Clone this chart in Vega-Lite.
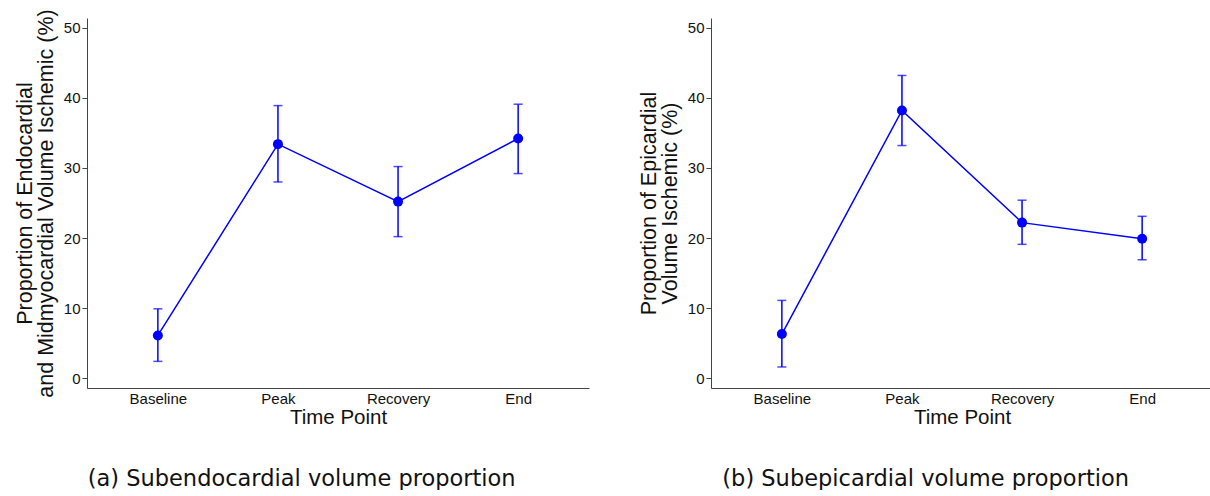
{
  "$schema": "https://vega.github.io/schema/vega-lite/v6.json",
  "background": "white",
  "padding": {"left": 14, "top": 8, "right": 0, "bottom": 0},
  "datasets": {
    "d": [
      {"panel": "a", "time": "Baseline", "mean": 6.1, "lo": 2.4, "hi": 9.9},
      {"panel": "a", "time": "Peak", "mean": 33.4, "lo": 28.0, "hi": 38.9},
      {"panel": "a", "time": "Recovery", "mean": 25.2, "lo": 20.2, "hi": 30.2},
      {"panel": "a", "time": "End", "mean": 34.2, "lo": 29.2, "hi": 39.1},
      {"panel": "b", "time": "Baseline", "mean": 6.3, "lo": 1.6, "hi": 11.1},
      {"panel": "b", "time": "Peak", "mean": 38.2, "lo": 33.2, "hi": 43.2},
      {"panel": "b", "time": "Recovery", "mean": 22.2, "lo": 19.1, "hi": 25.4},
      {"panel": "b", "time": "End", "mean": 19.9, "lo": 16.9, "hi": 23.1}
    ]
  },
  "config": {
    "view": {"stroke": null},
    "font": "Liberation Sans",
    "axis": {
      "grid": false,
      "domainColor": "#444444",
      "tickColor": "#444444",
      "labelColor": "#111111",
      "titleColor": "#111111",
      "labelFontSize": 15,
      "titleFontSize": 20.5,
      "titleFontWeight": "normal",
      "labelFont": "Liberation Sans",
      "titleFont": "Liberation Sans"
    },
    "title": {
      "font": "DejaVu Sans",
      "fontSize": 22.5,
      "fontWeight": "normal",
      "color": "#111111",
      "orient": "bottom",
      "frame": "bounds",
      "anchor": "middle",
      "offset": 40
    }
  },
  "spacing": 49,
  "hconcat": [
    {
      "width": 502,
      "height": 370,
      "title": {"text": "(a) Subendocardial volume proportion"},
      "data": {"name": "d"},
      "transform": [{"filter": "datum.panel == 'a'"}],
      "encoding": {
        "x": {
          "field": "time", "type": "ordinal",
          "sort": ["Baseline", "Peak", "Recovery", "End"],
          "scale": {"type": "point", "padding": 0.59},
          "axis": {"labelAngle": 0, "ticks": false, "title": "Time Point", "labelPadding": 3, "titlePadding": 1}
        }
      },
      "layer": [
        {
          "mark": {"type": "line", "color": "#0000ff", "strokeWidth": 1.5},
          "encoding": {
            "y": {
              "field": "mean", "type": "quantitative",
              "title": ["Proportion of Endocardial", "and Midmyocardial Volume Ischemic (%)"],
              "scale": {"domain": [-1.4, 51.4], "nice": false, "zero": false},
              "axis": {"values": [0, 10, 20, 30, 40, 50], "tickSize": 5, "labelPadding": 2, "titlePadding": 6, "titleFontSize": 21.5, "titleLineHeight": 21}
            }
          }
        },
        {
          "mark": {"type": "errorbar", "color": "#0000ff", "thickness": 1.5, "ticks": {"size": 9}},
          "encoding": {
            "y": {"field": "lo", "type": "quantitative", "title": ["Proportion of Endocardial", "and Midmyocardial Volume Ischemic (%)"]},
            "y2": {"field": "hi"}
          }
        },
        {
          "mark": {"type": "point", "filled": true, "color": "#0000ff", "opacity": 1, "size": 100},
          "encoding": {"y": {"field": "mean", "type": "quantitative", "title": ["Proportion of Endocardial", "and Midmyocardial Volume Ischemic (%)"]}}
        }
      ]
    },
    {
      "width": 502,
      "height": 370,
      "title": {"text": "(b) Subepicardial volume proportion"},
      "data": {"name": "d"},
      "transform": [{"filter": "datum.panel == 'b'"}],
      "encoding": {
        "x": {
          "field": "time", "type": "ordinal",
          "sort": ["Baseline", "Peak", "Recovery", "End"],
          "scale": {"type": "point", "padding": 0.59},
          "axis": {"labelAngle": 0, "ticks": false, "title": "Time Point", "labelPadding": 3, "titlePadding": 1}
        }
      },
      "layer": [
        {
          "mark": {"type": "line", "color": "#0000ff", "strokeWidth": 1.5},
          "encoding": {
            "y": {
              "field": "mean", "type": "quantitative",
              "title": ["Proportion of Epicardial", "Volume Ischemic (%)"],
              "scale": {"domain": [-1.4, 51.4], "nice": false, "zero": false},
              "axis": {"values": [0, 10, 20, 30, 40, 50], "tickSize": 5, "labelPadding": 2, "titlePadding": 6, "titleFontSize": 21.5, "titleLineHeight": 21}
            }
          }
        },
        {
          "mark": {"type": "errorbar", "color": "#0000ff", "thickness": 1.5, "ticks": {"size": 9}},
          "encoding": {
            "y": {"field": "lo", "type": "quantitative", "title": ["Proportion of Epicardial", "Volume Ischemic (%)"]},
            "y2": {"field": "hi"}
          }
        },
        {
          "mark": {"type": "point", "filled": true, "color": "#0000ff", "opacity": 1, "size": 100},
          "encoding": {"y": {"field": "mean", "type": "quantitative", "title": ["Proportion of Epicardial", "Volume Ischemic (%)"]}}
        }
      ]
    }
  ]
}
